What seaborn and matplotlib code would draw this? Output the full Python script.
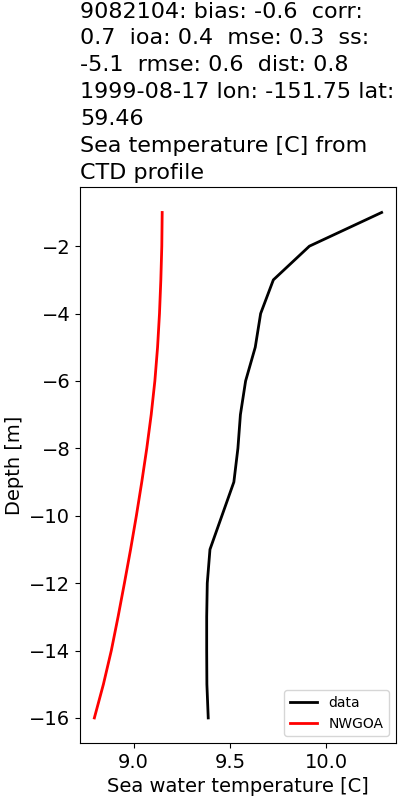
"""CTD temperature profile vs NWGOA model"""

import matplotlib as mpl

mpl.use("Agg")
import matplotlib.pyplot as plt
import pandas as pd
import seaborn as sns

depth = [-1, -2, -3, -4, -5, -6, -7, -8, -9, -10, -11, -12, -13, -14, -15, -16]

# observed CTD temperatures
data_temp = [
    10.287, 9.912, 9.725, 9.659, 9.631, 9.581, 9.554, 9.541,
    9.520, 9.458, 9.396, 9.382, 9.379, 9.379, 9.380, 9.387,
]

# model temperatures
nwgoa_temp = [
    9.148, 9.146, 9.141, 9.134, 9.124, 9.110, 9.091, 9.068,
    9.042, 9.014, 8.984, 8.952, 8.919, 8.884, 8.843, 8.796,
]

title = (
    "9082104: bias: -0.6  corr:\n"
    "0.7  ioa: 0.4  mse: 0.3  ss:\n"
    "-5.1  rmse: 0.6  dist: 0.8\n"
    "1999-08-17 lon: -151.75 lat:\n"
    "59.46\n"
    "Sea temperature [C] from\n"
    "CTD profile"
)


def build_df() -> pd.DataFrame:
    obs = pd.DataFrame({"temp": data_temp, "depth": depth, "source": "data"})
    mod = pd.DataFrame({"temp": nwgoa_temp, "depth": depth, "source": "NWGOA"})
    return pd.concat([obs, mod], ignore_index=True)


def plot(df: pd.DataFrame) -> None:
    fig = plt.figure(figsize=(4, 8), dpi=100)
    ax = fig.add_axes([0.2, 0.071, 0.79, 0.695])

    sns.lineplot(
        data=df,
        x="temp",
        y="depth",
        hue="source",
        palette={"data": "black", "NWGOA": "red"},
        sort=False,
        estimator=None,
        linewidth=2,
        ax=ax,
    )

    ax.set_title(title, loc="left", fontsize=16, linespacing=1.43)
    ax.set_xlabel("Sea water temperature [C]", fontsize=14)
    ax.set_ylabel("Depth [m]", fontsize=14)
    ax.tick_params(labelsize=14)
    ax.set_xticks([9.0, 9.5, 10.0])
    ax.legend(loc="lower right", fontsize=10)

    fig.savefig("out.png", dpi=100)


if __name__ == "__main__":
    plot(build_df())
